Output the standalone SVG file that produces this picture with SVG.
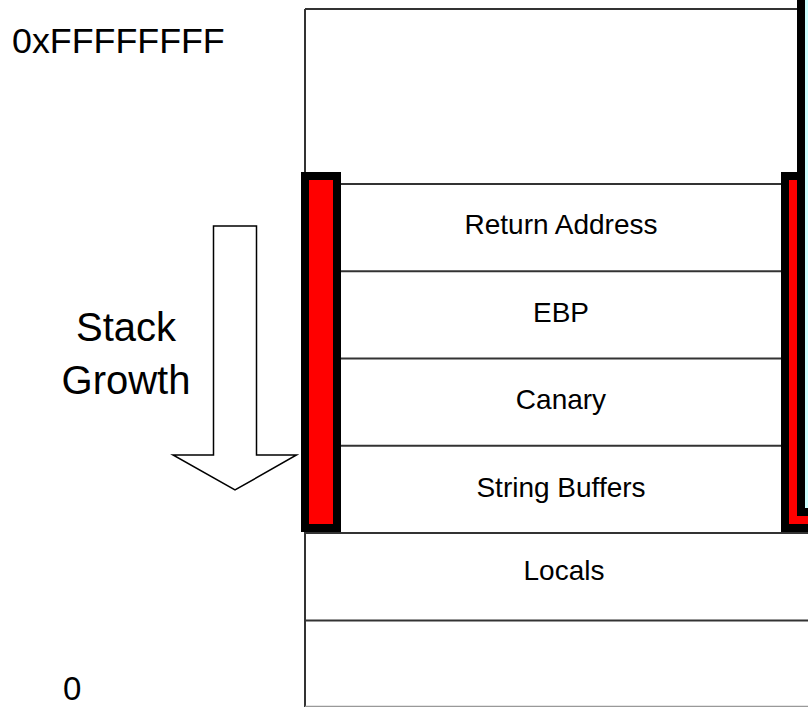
<svg xmlns="http://www.w3.org/2000/svg" width="808" height="707" viewBox="0 0 808 707">
  <style>
    .line { stroke: #333; stroke-width: 2; fill: none; }
    .bar { fill: #ff0000; stroke: #000; stroke-width: 8; }
    .cell { font-family: "Liberation Sans", Arial, sans-serif; font-size: 28px; fill: #000; text-anchor: middle; }
    .big { font-family: "Liberation Sans", Arial, sans-serif; fill: #000; }
  </style>
  <rect x="0" y="0" width="808" height="707" fill="#fff"/>

  <g id="stack-frame">
    <line class="line" x1="305" y1="9" x2="808" y2="9"/>
    <line class="line" x1="305" y1="9" x2="305" y2="707"/>
    <line class="line" x1="305" y1="184" x2="808" y2="184"/>
    <line class="line" x1="305" y1="271.3" x2="808" y2="271.3"/>
    <line class="line" x1="305" y1="358.5" x2="808" y2="358.5"/>
    <line class="line" x1="305" y1="445.7" x2="808" y2="445.7"/>
    <line class="line" x1="305" y1="533" x2="808" y2="533"/>
    <line class="line" x1="305" y1="620.5" x2="808" y2="620.5"/>
    <line x1="305" y1="706.5" x2="808" y2="706.5" stroke="#999" stroke-width="1.5"/>
  </g>

  <g id="return-address"><text class="cell" x="561" y="234">Return Address</text></g>
  <g id="ebp"><text class="cell" x="561" y="322">EBP</text></g>
  <g id="canary"><text class="cell" x="561" y="409">Canary</text></g>
  <g id="string-buffers"><text class="cell" x="561" y="497">String Buffers</text></g>
  <g id="locals"><text class="cell" x="564" y="580">Locals</text></g>

  <g id="left-bar"><rect class="bar" x="305" y="176" width="32" height="352"/></g>
  <g id="right-bar"><rect class="bar" x="785" y="176" width="60" height="352"/></g>
  <g id="right-frame"><rect x="801" y="-20" width="40" height="532" fill="#ccffff" stroke="#000" stroke-width="8"/></g>

  <g id="label-top"><text class="big" x="12" y="53" font-size="35.8">0xFFFFFFFF</text></g>
  <g id="label-bottom"><text class="big" x="63" y="700" font-size="33">0</text></g>
  <g id="label-growth">
    <text class="big" x="126" y="341" font-size="40" text-anchor="middle">Stack</text>
    <text class="big" x="126" y="394" font-size="40" text-anchor="middle">Growth</text>
  </g>

  <g id="connectors">
    <polygon points="213.5,226 256.5,226 256.5,455 296.5,455 235,490 173,455 213.5,455" fill="#fff" stroke="#000" stroke-width="1.5" stroke-linejoin="miter"/>
  </g>
</svg>
